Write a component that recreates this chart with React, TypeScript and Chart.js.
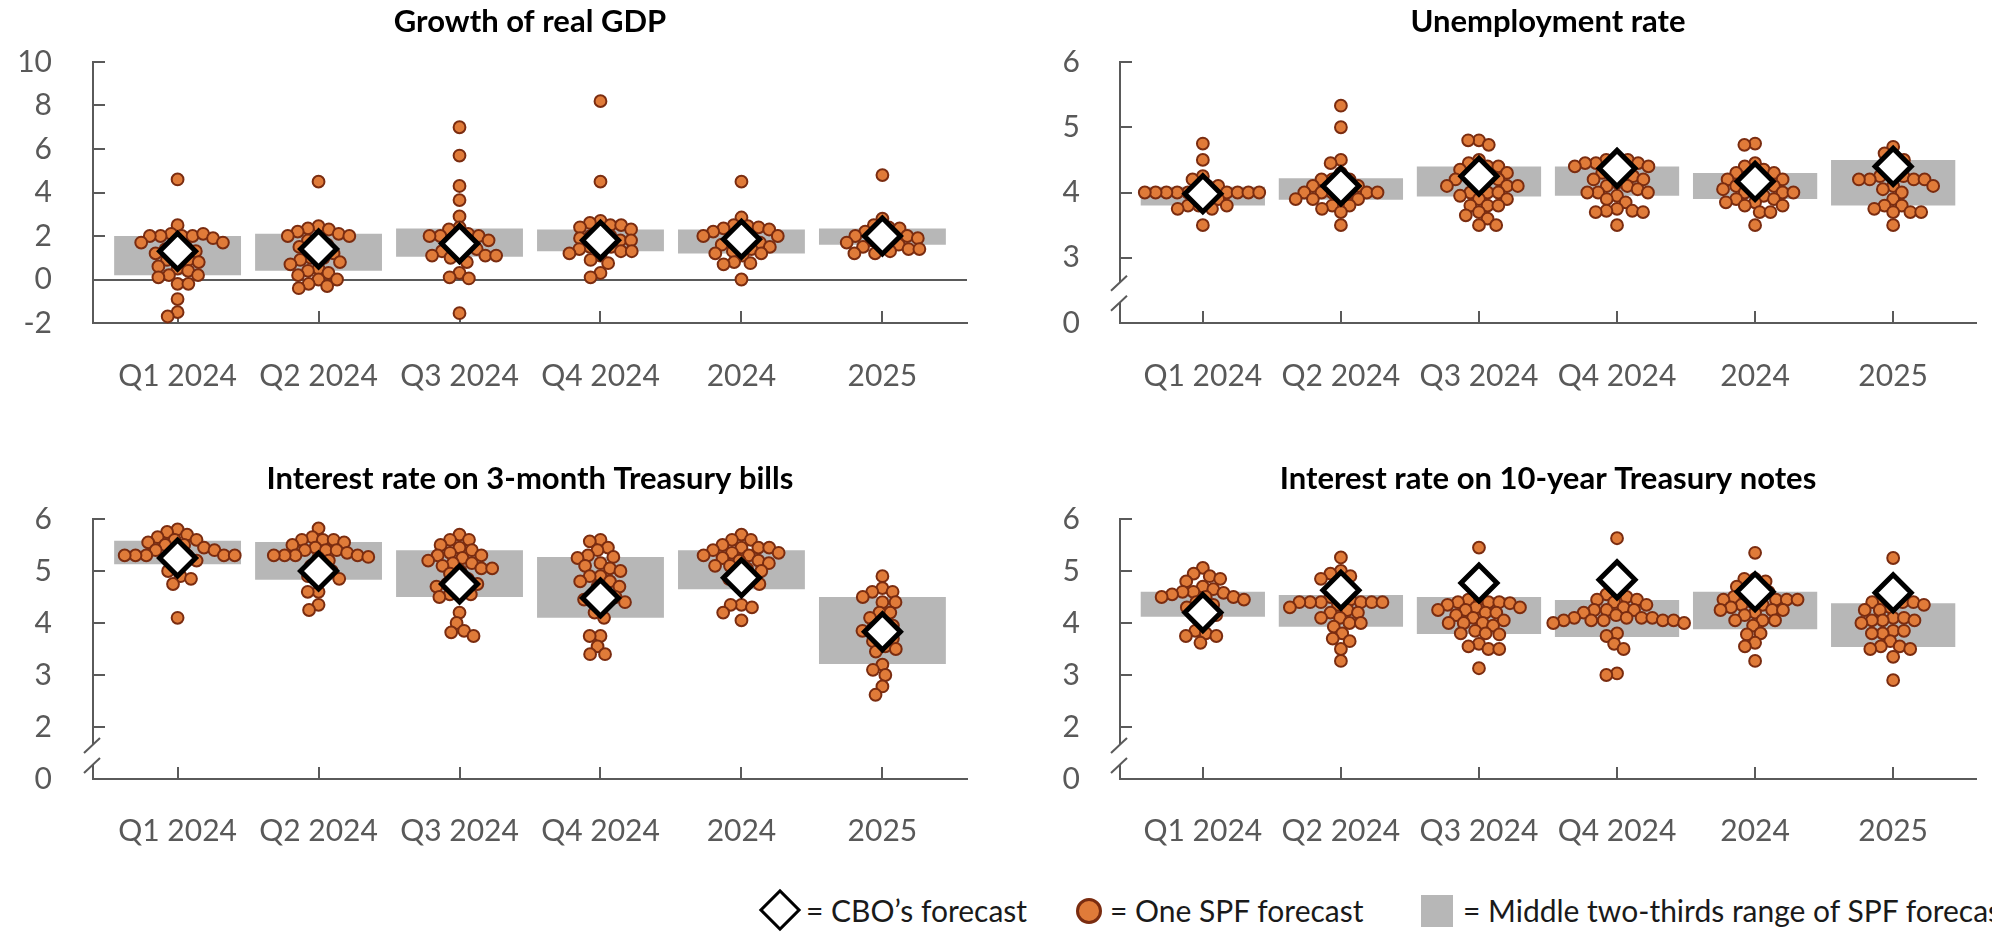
import React, { useEffect, useRef } from 'react';
import { Chart, registerables } from 'chart.js';

Chart.register(...registerables);

// ---------------- data ----------------
const categories = ['Q1 2024', 'Q2 2024', 'Q3 2024', 'Q4 2024', '2024', '2025'];

const gdpTitle = 'Growth of real GDP';
const gdpCbo = [1.3, 1.4, 1.65, 1.8, 1.85, 2.0];
const gdpLow = [0.2, 0.4, 1.05, 1.3, 1.2, 1.6];
const gdpHigh = [2.0, 2.1, 2.35, 2.3, 2.3, 2.35];
const gdpSpf = [
  [4.6, 2.5, 2.1, 2.0, 2.0, 2.0, 2.1, 2.0, 1.9, 1.7, 1.7, 1.6, 1.5, 1.4, 1.3, 1.2, 1.0, 0.9, 0.9, 0.8, 0.6, 0.5, 0.4, 0.2, 0.2, 0.1, -0.2, -0.2, -0.9, -1.5, -1.7],
  [4.5, 2.45, 2.35, 2.3, 2.2, 2.1, 2.0, 2.0, 1.9, 1.8, 1.6, 1.5, 1.4, 1.2, 1.0, 1.0, 0.9, 0.8, 0.7, 0.5, 0.4, 0.3, 0.2, 0.0, 0.0, -0.2, -0.3, -0.4],
  [7.0, 5.7, 4.3, 3.65, 2.9, 2.4, 2.3, 2.1, 2.0, 2.0, 2.0, 1.9, 1.8, 1.6, 1.5, 1.4, 1.3, 1.2, 1.1, 1.1, 1.1, 1.0, 0.8, 0.3, 0.1, 0.05, -1.55],
  [8.2, 4.5, 2.7, 2.6, 2.5, 2.5, 2.4, 2.3, 2.2, 2.0, 2.0, 1.9, 1.8, 1.8, 1.6, 1.5, 1.5, 1.4, 1.3, 1.3, 1.2, 1.1, 0.9, 0.75, 0.3, 0.1],
  [4.5, 2.85, 2.5, 2.45, 2.4, 2.35, 2.3, 2.2, 2.1, 2.0, 2.0, 1.9, 1.8, 1.7, 1.6, 1.6, 1.5, 1.4, 1.3, 1.2, 1.2, 1.1, 0.8, 0.75, 0.7, 0.0],
  [4.8, 2.8, 2.5, 2.4, 2.35, 2.2, 2.1, 2.0, 2.0, 1.9, 1.9, 1.8, 1.7, 1.6, 1.6, 1.5, 1.4, 1.4, 1.3, 1.2, 1.2],
];

const unempTitle = 'Unemployment rate';
const unempCbo = [3.98, 4.1, 4.25, 4.37, 4.17, 4.4];
const unempLow = [3.8, 3.89, 3.94, 3.95, 3.9, 3.8];
const unempHigh = [4.09, 4.22, 4.4, 4.4, 4.3, 4.5];
const unempSpf = [
  [4.75, 4.5, 4.25, 4.2, 4.1, 4.1, 4.0, 4.0, 4.0, 4.0, 4.0, 4.0, 4.0, 4.0, 4.0, 4.0, 3.9, 3.9, 3.8, 3.8, 3.8, 3.75, 3.75, 3.5],
  [5.33, 5.0, 4.5, 4.45, 4.3, 4.2, 4.2, 4.2, 4.1, 4.1, 4.1, 4.0, 4.0, 4.0, 4.0, 4.0, 4.0, 3.9, 3.9, 3.9, 3.9, 3.8, 3.8, 3.75, 3.7, 3.5],
  [4.8, 4.8, 4.73, 4.5, 4.45, 4.4, 4.4, 4.35, 4.3, 4.3, 4.2, 4.2, 4.2, 4.2, 4.1, 4.1, 4.1, 4.1, 4.0, 4.0, 4.0, 3.95, 3.9, 3.9, 3.8, 3.8, 3.8, 3.7, 3.65, 3.6, 3.5, 3.5],
  [4.5, 4.5, 4.5, 4.45, 4.45, 4.45, 4.4, 4.4, 4.35, 4.3, 4.3, 4.25, 4.2, 4.2, 4.15, 4.1, 4.1, 4.05, 4.0, 4.0, 4.0, 3.95, 3.9, 3.85, 3.75, 3.72, 3.72, 3.7, 3.7, 3.5],
  [4.75, 4.73, 4.45, 4.4, 4.35, 4.3, 4.3, 4.25, 4.2, 4.2, 4.2, 4.15, 4.1, 4.1, 4.05, 4.05, 4.0, 4.0, 4.0, 3.95, 3.9, 3.9, 3.85, 3.85, 3.8, 3.8, 3.7, 3.7, 3.5],
  [4.7, 4.6, 4.5, 4.5, 4.4, 4.3, 4.25, 4.25, 4.2, 4.2, 4.2, 4.2, 4.1, 4.1, 4.05, 4.0, 3.9, 3.8, 3.8, 3.75, 3.7, 3.7, 3.7, 3.5],
];

const billTitle = 'Interest rate on 3-month Treasury bills';
const billCbo = [5.25, 5.0, 4.75, 4.48, 4.87, 3.83];
const billLow = [5.13, 4.83, 4.5, 4.1, 4.65, 3.21];
const billHigh = [5.58, 5.56, 5.4, 5.27, 5.4, 4.5];
const billSpf = [
  [5.8, 5.75, 5.7, 5.65, 5.6, 5.6, 5.55, 5.5, 5.5, 5.45, 5.4, 5.4, 5.35, 5.3, 5.3, 5.3, 5.3, 5.3, 5.3, 5.25, 5.2, 5.1, 5.0, 4.9, 4.85, 4.75, 4.1],
  [5.82, 5.65, 5.6, 5.6, 5.6, 5.55, 5.5, 5.45, 5.4, 5.4, 5.4, 5.35, 5.3, 5.3, 5.3, 5.3, 5.27, 5.25, 5.2, 5.1, 5.0, 5.0, 4.9, 4.85, 4.6, 4.6, 4.35, 4.25],
  [5.7, 5.6, 5.6, 5.5, 5.45, 5.4, 5.35, 5.3, 5.3, 5.25, 5.2, 5.15, 5.15, 5.1, 5.05, 5.05, 5.0, 4.95, 4.85, 4.8, 4.75, 4.75, 4.7, 4.6, 4.55, 4.55, 4.5, 4.2, 4.0, 3.85, 3.82, 3.75],
  [5.6, 5.57, 5.45, 5.4, 5.3, 5.27, 5.25, 5.15, 5.1, 5.05, 5.0, 4.9, 4.9, 4.8, 4.8, 4.7, 4.7, 4.55, 4.5, 4.5, 4.45, 4.4, 4.35, 4.2, 4.1, 3.75, 3.75, 3.55, 3.4, 3.4],
  [5.7, 5.6, 5.6, 5.5, 5.45, 5.45, 5.45, 5.4, 5.35, 5.35, 5.3, 5.3, 5.25, 5.2, 5.2, 5.15, 5.1, 5.1, 5.05, 5.0, 4.9, 4.85, 4.85, 4.75, 4.7, 4.35, 4.35, 4.3, 4.2, 4.05],
  [4.9, 4.67, 4.6, 4.6, 4.5, 4.4, 4.4, 4.2, 4.2, 4.1, 4.0, 3.95, 3.9, 3.85, 3.75, 3.7, 3.65, 3.55, 3.5, 3.45, 3.2, 3.1, 3.0, 2.78, 2.62],
];

const noteTitle = 'Interest rate on 10-year Treasury notes';
const noteCbo = [4.2, 4.63, 4.77, 4.83, 4.6, 4.58];
const noteLow = [4.12, 3.93, 3.79, 3.73, 3.88, 3.54];
const noteHigh = [4.6, 4.54, 4.5, 4.44, 4.6, 4.38];
const noteSpf = [
  [5.06, 4.95, 4.9, 4.85, 4.8, 4.7, 4.65, 4.6, 4.6, 4.58, 4.55, 4.5, 4.5, 4.5, 4.45, 4.4, 4.35, 4.3, 4.25, 4.15, 4.15, 4.0, 3.85, 3.8, 3.75, 3.75, 3.62],
  [5.26, 5.0, 4.95, 4.9, 4.85, 4.55, 4.5, 4.45, 4.4, 4.4, 4.4, 4.4, 4.4, 4.4, 4.35, 4.3, 4.25, 4.2, 4.2, 4.1, 4.1, 4.0, 4.0, 3.93, 3.8, 3.7, 3.65, 3.5, 3.27],
  [5.45, 4.5, 4.45, 4.4, 4.4, 4.4, 4.38, 4.35, 4.3, 4.3, 4.25, 4.25, 4.2, 4.2, 4.15, 4.1, 4.05, 4.0, 4.0, 4.0, 3.95, 3.85, 3.8, 3.8, 3.78, 3.6, 3.55, 3.5, 3.5, 3.13],
  [5.63, 4.6, 4.55, 4.5, 4.45, 4.45, 4.4, 4.35, 4.3, 4.25, 4.25, 4.25, 4.2, 4.15, 4.1, 4.1, 4.1, 4.1, 4.05, 4.05, 4.05, 4.05, 4.05, 4.0, 4.0, 3.8, 3.75, 3.6, 3.5, 3.03, 3.0],
  [5.35, 4.85, 4.85, 4.8, 4.7, 4.6, 4.6, 4.55, 4.5, 4.45, 4.45, 4.45, 4.45, 4.4, 4.35, 4.35, 4.3, 4.25, 4.25, 4.25, 4.2, 4.15, 4.05, 4.05, 4.05, 3.95, 3.8, 3.78, 3.62, 3.55, 3.27],
  [5.25, 4.5, 4.45, 4.4, 4.4, 4.4, 4.35, 4.3, 4.25, 4.25, 4.1, 4.1, 4.05, 4.05, 4.05, 4.0, 3.85, 3.85, 3.8, 3.8, 3.65, 3.55, 3.55, 3.5, 3.5, 3.35, 2.9],
];

const legendLabels = ['= CBO\u2019s forecast', '= One SPF forecast', '= Middle two-thirds range of SPF forecasts'];

// ---------------- styles ----------------
const FONT = 'Lato, "Open Sans", sans-serif';
const AXIS = '#5a5a5a';
const TICK_TEXT = '#595959';
const DOT_FILL = '#e07b39';
const DOT_EDGE = '#7a2c10';
const BAR_FILL = '#b7b7b7';
const DOT_GAP = 10.8;

type PanelCfg = {
  title: string;
  cbo: number[];
  low: number[];
  high: number[];
  spf: number[][];
  yMin: number;
  yMax: number;
  yStep: number;
  broken: boolean;
  zeroLine: boolean;
};

const panels: PanelCfg[] = [
  { title: gdpTitle, cbo: gdpCbo, low: gdpLow, high: gdpHigh, spf: gdpSpf, yMin: -2, yMax: 10, yStep: 2, broken: false, zeroLine: true },
  { title: unempTitle, cbo: unempCbo, low: unempLow, high: unempHigh, spf: unempSpf, yMin: 2, yMax: 6, yStep: 1, broken: true, zeroLine: false },
  { title: billTitle, cbo: billCbo, low: billLow, high: billHigh, spf: billSpf, yMin: 1, yMax: 6, yStep: 1, broken: true, zeroLine: false },
  { title: noteTitle, cbo: noteCbo, low: noteLow, high: noteHigh, spf: noteSpf, yMin: 1, yMax: 6, yStep: 1, broken: true, zeroLine: false },
];

// beeswarm: horizontal pixel offsets so dots do not overlap too much
function swarm(values: number[], yPix: (v: number) => number, d: number): number[] {
  const placed: { x: number; y: number }[] = [];
  const out = new Array(values.length).fill(0);
  values.forEach((v, i) => {
    const y = yPix(v);
    const cands = [0];
    for (const p of placed) {
      const dy = Math.abs(p.y - y);
      if (dy < d) {
        const dx = Math.sqrt(d * d - dy * dy);
        cands.push(p.x + dx, p.x - dx);
      }
    }
    cands.sort((a, b) => Math.abs(a) - Math.abs(b) || a - b);
    let best = 0;
    for (const c of cands) {
      if (placed.every((p) => (p.x - c) ** 2 + (p.y - y) ** 2 >= d * d - 0.01)) {
        best = c;
        break;
      }
    }
    placed.push({ x: best, y });
    out[i] = best;
  });
  return out;
}

type Layout = {
  left: number;
  top: number;
  width: number;
  height: number;
  yAxisWidth: number;
  yLabelPad: number;
  padRight: number;
  titlePadTop: number;
  titlePadBottom: number;
  xAxisHeight: number;
  xLabelPad: number;
};

function Panel({ cfg, lay }: { cfg: PanelCfg; lay: Layout }) {
  const ref = useRef<HTMLCanvasElement | null>(null);

  useEffect(() => {
    const canvas = ref.current;
    if (!canvas) return;

    const decor = {
      id: 'decor',
      beforeDatasetsDraw(chart: any) {
        const { ctx, chartArea } = chart;
        const xs = chart.scales.x;
        const ys = chart.scales.y;
        ctx.save();
        ctx.strokeStyle = AXIS;
        ctx.lineWidth = 2;
        ctx.lineCap = 'butt';
        ys.ticks.forEach((t: any) => {
          if (t.value === cfg.yMin) return;
          const py = Math.round(ys.getPixelForValue(t.value));
          ctx.beginPath();
          ctx.moveTo(chartArea.left, py);
          ctx.lineTo(chartArea.left + 12, py);
          ctx.stroke();
        });
        xs.ticks.forEach((t: any) => {
          const px = Math.round(xs.getPixelForValue(t.value));
          ctx.beginPath();
          ctx.moveTo(px, chartArea.bottom);
          ctx.lineTo(px, chartArea.bottom - 12);
          ctx.stroke();
        });
        if (cfg.broken) {
          const y0 = ys.getPixelForValue(cfg.yMin);
          const y1 = ys.getPixelForValue(cfg.yMin + cfg.yStep);
          const c = y0 - (y0 - y1) * 0.47;
          const L = chartArea.left;
          ctx.fillStyle = '#ffffff';
          ctx.fillRect(L - 3, c - 10, 6, 20);
          [c - 10, c + 10].forEach((cy) => {
            ctx.beginPath();
            ctx.moveTo(L - 9, cy + 8.4);
            ctx.lineTo(L + 7, cy - 6.6);
            ctx.stroke();
          });
        }
        ctx.restore();
      },
    };

    const chart = new Chart(canvas, {
      type: 'bar',
      data: {
        datasets: [
          {
            type: 'scatter',
            label: 'CBO',
            data: cfg.cbo.map((v, i) => ({ x: i, y: v })),
            pointStyle: 'rectRot',
            pointRadius: 18,
            pointHoverRadius: 18,
            pointBorderWidth: 5,
            pointHoverBorderWidth: 5,
            pointBackgroundColor: '#ffffff',
            pointBorderColor: '#000000',
            backgroundColor: '#ffffff',
            borderColor: '#000000',
            order: 0,
            clip: false,
          } as any,
          {
            type: 'scatter',
            label: 'SPF',
            data: cfg.spf.flatMap((vals, i) => vals.map((v) => ({ x: i, y: v }))),
            pointStyle: 'circle',
            pointRadius: 5.9,
            pointHoverRadius: 5.9,
            pointBorderWidth: 2,
            pointHoverBorderWidth: 2,
            pointBackgroundColor: DOT_FILL,
            pointBorderColor: DOT_EDGE,
            backgroundColor: DOT_FILL,
            borderColor: DOT_EDGE,
            order: 1,
            clip: false,
          } as any,
          {
            type: 'bar',
            label: 'Range',
            data: cfg.low.map((l, i) => ({ x: i, y: [l, cfg.high[i]] })),
            backgroundColor: BAR_FILL,
            borderWidth: 0,
            barPercentage: 1,
            categoryPercentage: 0.9,
            order: 2,
          } as any,
        ],
      },
      options: {
        responsive: false,
        animation: false,
        events: [],
        layout: { padding: { left: 0, right: lay.padRight, top: 0, bottom: 0 } },
        plugins: {
          legend: { display: false },
          tooltip: { enabled: false },
          title: {
            display: true,
            text: cfg.title,
            fullSize: false,
            color: '#000000',
            font: { family: FONT, size: 31, weight: 'bold', lineHeight: 1.2 },
            padding: { top: lay.titlePadTop, bottom: lay.titlePadBottom },
          },
        },
        scales: {
          x: {
            type: 'linear',
            min: -0.6,
            max: 5.6,
            offset: false,
            afterFit: (s: any) => {
              s.height = lay.xAxisHeight;
            },
            grid: { display: false, drawTicks: false, offset: false },
            border: { display: true, color: AXIS, width: 2 },
            ticks: {
              stepSize: 1,
              includeBounds: false,
              autoSkip: false,
              maxRotation: 0,
              padding: lay.xLabelPad,
              color: TICK_TEXT,
              font: { family: FONT, size: 30, lineHeight: 1.2 },
              callback: (v: any) => (Number.isInteger(v) && categories[v] !== undefined ? categories[v] : ''),
            },
          },
          y: {
            type: 'linear',
            min: cfg.yMin,
            max: cfg.yMax,
            beginAtZero: false,
            afterFit: (s: any) => {
              s.width = lay.yAxisWidth;
            },
            grid: {
              display: cfg.zeroLine,
              drawTicks: false,
              lineWidth: 2,
              color: (ctx: any) => (ctx.tick && ctx.tick.value === 0 ? AXIS : 'rgba(0,0,0,0)'),
            },
            border: { display: true, color: AXIS, width: 2 },
            ticks: {
              stepSize: cfg.yStep,
              padding: lay.yLabelPad,
              color: TICK_TEXT,
              font: { family: FONT, size: 30, lineHeight: 1.2 },
              callback: (v: any) => (cfg.broken && v === cfg.yMin ? '0' : String(v)),
            },
          },
        },
      } as any,
      plugins: [decor],
    });

    const xs: any = chart.scales.x;
    const ys: any = chart.scales.y;
    const ppu = xs.getPixelForValue(1) - xs.getPixelForValue(0);
    const pts: { x: number; y: number }[] = [];
    cfg.spf.forEach((vals, i) => {
      const offs = swarm(vals, (v) => ys.getPixelForValue(v), DOT_GAP);
      vals.forEach((v, k) => pts.push({ x: i + offs[k] / ppu, y: v }));
    });
    (chart.data.datasets[1] as any).data = pts;
    chart.update('none');

    return () => chart.destroy();
  }, []);

  return (
    <div style={{ position: 'absolute', left: lay.left, top: lay.top, width: lay.width, height: lay.height }}>
      <canvas ref={ref} width={lay.width} height={lay.height} style={{ display: 'block' }} />
    </div>
  );
}

const topLeft: Layout = { left: 0, top: 0, width: 996, height: 430, yAxisWidth: 93, yLabelPad: 41, padRight: 29, titlePadTop: 3.4, titlePadBottom: 21.4, xAxisHeight: 107, xLabelPad: 35 };
const topRight: Layout = { left: 996, top: 0, width: 1003, height: 430, yAxisWidth: 124, yLabelPad: 40, padRight: 4, titlePadTop: 3.4, titlePadBottom: 21.4, xAxisHeight: 107, xLabelPad: 35 };
const botLeft: Layout = { left: 0, top: 430, width: 996, height: 440, yAxisWidth: 93, yLabelPad: 41, padRight: 29, titlePadTop: 30.4, titlePadBottom: 21.4, xAxisHeight: 91, xLabelPad: 34 };
const botRight: Layout = { left: 996, top: 430, width: 1003, height: 440, yAxisWidth: 124, yLabelPad: 40, padRight: 4, titlePadTop: 30.4, titlePadBottom: 21.4, xAxisHeight: 91, xLabelPad: 34 };

function Legend() {
  const text: React.CSSProperties = {
    position: 'absolute',
    top: 0,
    height: 40,
    lineHeight: '40px',
    fontFamily: FONT,
    fontSize: 30,
    color: '#1a1a1a',
    whiteSpace: 'nowrap',
  };
  return (
    <div style={{ position: 'absolute', left: 0, top: 890, width: 1992, height: 40 }}>
      <div
        style={{
          position: 'absolute',
          left: 780 - 15,
          top: 20 - 15,
          width: 30,
          height: 30,
          boxSizing: 'border-box',
          border: '3px solid #000',
          background: '#fff',
          transform: 'rotate(45deg)',
        }}
      />
      <div style={{ ...text, left: 806 }}>{legendLabels[0]}</div>
      <div
        style={{
          position: 'absolute',
          left: 1089 - 13,
          top: 21 - 13,
          width: 26,
          height: 26,
          boxSizing: 'border-box',
          borderRadius: '50%',
          border: `3px solid ${DOT_EDGE}`,
          background: DOT_FILL,
        }}
      />
      <div style={{ ...text, left: 1110 }}>{legendLabels[1]}</div>
      <div style={{ position: 'absolute', left: 1421, top: 5, width: 32, height: 32, background: BAR_FILL }} />
      <div style={{ ...text, left: 1463 }}>{legendLabels[2]}</div>
    </div>
  );
}

export default function App() {
  return (
    <div
      style={{
        position: 'absolute',
        left: 0,
        top: 0,
        width: 1992,
        height: 933,
        overflow: 'hidden',
        background: '#ffffff',
      }}
    >
      <Panel cfg={panels[0]} lay={topLeft} />
      <Panel cfg={panels[1]} lay={topRight} />
      <Panel cfg={panels[2]} lay={botLeft} />
      <Panel cfg={panels[3]} lay={botRight} />
      <Legend />
    </div>
  );
}
